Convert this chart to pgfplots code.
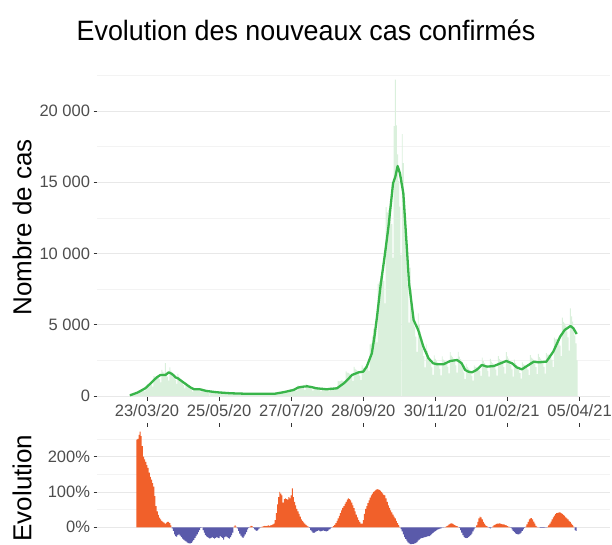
\documentclass[border=0pt]{standalone}
\usepackage{pgfplots}
\usepackage{pgfplotstable}
\usepackage{graphicx}
\pgfplotsset{compat=1.18}
\usepackage{fontspec}
\setmainfont{Liberation Sans}
\definecolor{barg}{RGB}{218,240,220}
\definecolor{lineg}{RGB}{57,181,74}
\definecolor{orng}{RGB}{241,96,42}
\definecolor{blu}{RGB}{90,90,170}
\definecolor{gridA}{RGB}{232,232,232}
\definecolor{gridB}{RGB}{243,243,243}
\definecolor{tickc}{RGB}{51,51,51}
\definecolor{labc}{RGB}{77,77,77}

\pgfplotstableread[row sep=\\]{
d c\\
-15 60\\ -14 115\\ -13 145\\ -12 170\\ -11 180\\ -10 190\\ -9 165\\
-8 310\\ -7 335\\ -6 365\\ -5 390\\ -4 400\\ -3 400\\ -2 330\\
-1 675\\ 0 715\\ 1 770\\ 2 820\\ 3 815\\ 4 800\\ 5 665\\
6 1400\\ 7 1360\\ 8 1365\\ 9 1365\\ 10 1290\\ 11 1205\\ 12 955\\
13 1840\\ 14 1690\\ 15 1615\\ 16 2300\\ 17 1455\\ 18 1360\\ 19 1080\\
20 2000\\ 21 1780\\ 22 1650\\ 23 1545\\ 24 1340\\ 25 1155\\ 26 845\\
27 1550\\ 28 1355\\ 29 1220\\ 30 1090\\ 31 920\\ 32 765\\ 33 540\\
34 960\\ 35 830\\ 36 735\\ 37 650\\ 38 540\\ 39 440\\ 40 305\\
41 590\\ 42 540\\ 43 515\\ 44 495\\ 45 445\\ 46 400\\ 47 300\\
48 550\\ 49 485\\ 50 440\\ 51 400\\ 52 340\\ 53 290\\ 54 215\\
55 400\\ 56 355\\ 57 330\\ 58 305\\ 59 265\\ 60 230\\ 61 170\\
62 320\\ 63 290\\ 64 270\\ 65 250\\ 66 225\\ 67 190\\ 68 140\\
69 255\\ 70 230\\ 71 215\\ 72 200\\ 73 180\\ 74 160\\ 75 120\\
76 230\\ 77 205\\ 78 195\\ 79 185\\ 80 165\\ 81 145\\ 82 110\\
83 210\\ 84 190\\ 85 180\\ 86 170\\ 87 150\\ 88 135\\ 89 100\\
90 195\\ 91 175\\ 92 170\\ 93 160\\ 94 145\\ 95 130\\ 96 100\\
97 190\\ 98 175\\ 99 165\\ 100 160\\ 101 145\\ 102 130\\ 103 100\\
104 190\\ 105 175\\ 106 165\\ 107 160\\ 108 145\\ 109 130\\ 110 100\\
111 190\\ 112 190\\ 113 200\\ 114 205\\ 115 200\\ 116 190\\ 117 155\\
118 325\\ 119 320\\ 120 330\\ 121 335\\ 122 325\\ 123 305\\ 124 245\\
125 500\\ 126 485\\ 127 495\\ 128 515\\ 129 505\\ 130 475\\ 131 375\\
132 740\\ 133 690\\ 134 675\\ 135 660\\ 136 615\\ 137 560\\ 138 435\\
139 850\\ 140 770\\ 141 715\\ 142 660\\ 143 580\\ 144 500\\ 145 370\\
146 695\\ 147 620\\ 148 585\\ 149 545\\ 150 485\\ 151 425\\ 152 320\\
153 600\\ 154 545\\ 155 515\\ 156 495\\ 157 455\\ 158 415\\ 159 325\\
160 640\\ 161 600\\ 162 585\\ 163 565\\ 164 570\\ 165 595\\ 166 520\\
167 1060\\ 168 1025\\ 169 1065\\ 170 1100\\ 171 1075\\ 172 1035\\ 173 845\\
174 1725\\ 175 1645\\ 176 1615\\ 177 1575\\ 178 1465\\ 179 1345\\ 180 1045\\
181 2040\\ 182 1900\\ 183 1825\\ 184 1755\\ 185 1595\\ 186 1435\\ 187 1105\\
188 2140\\ 189 1965\\ 190 1980\\ 191 2050\\ 192 2000\\ 193 2040\\ 194 1755\\
195 3625\\ 196 3680\\ 197 4180\\ 198 4725\\ 199 4750\\ 200 4590\\ 201 3770\\
202 7875\\ 203 8050\\ 204 8435\\ 205 8715\\ 206 8455\\ 207 8075\\ 208 6505\\
209 13250\\ 210 12880\\ 211 13070\\ 212 13230\\ 213 12730\\ 214 12070\\ 215 9700\\
216 18940\\ 217 22200\\ 218 19000\\ 219 16950\\ 220 15100\\ 221 13285\\ 222 9880\\
223 18375\\ 224 16350\\ 225 13750\\ 226 12075\\ 227 9955\\ 228 7820\\ 229 5140\\
230 9000\\ 231 7475\\ 232 6490\\ 233 5600\\ 234 4845\\ 235 4165\\ 236 3090\\
237 5790\\ 238 5000\\ 239 4510\\ 240 3990\\ 241 3325\\ 242 2805\\ 243 2015\\
244 3625\\ 245 3160\\ 246 2910\\ 247 2680\\ 248 2330\\ 249 2015\\ 250 1490\\
251 2850\\ 252 2610\\ 253 2485\\ 254 2360\\ 255 2130\\ 256 1895\\ 257 1445\\
258 2780\\ 259 2560\\ 260 2485\\ 261 2415\\ 262 2235\\ 263 2040\\ 264 1585\\
265 3070\\ 266 2840\\ 267 2740\\ 268 2630\\ 269 2390\\ 270 2140\\ 271 1640\\
272 3100\\ 273 2760\\ 274 2585\\ 275 2410\\ 276 2000\\ 277 1660\\ 278 1185\\
279 2250\\ 280 2035\\ 281 1915\\ 282 1795\\ 283 1595\\ 284 1410\\ 285 1085\\
286 2150\\ 287 2045\\ 288 2010\\ 289 1995\\ 290 1890\\ 291 1770\\ 292 1415\\
293 2690\\ 294 2440\\ 295 2300\\ 296 2165\\ 297 1955\\ 298 1760\\ 299 1350\\
300 2600\\ 301 2405\\ 302 2310\\ 303 2225\\ 304 2035\\ 305 1845\\ 306 1430\\
307 2800\\ 308 2610\\ 309 2525\\ 310 2435\\ 311 2235\\ 312 2030\\ 313 1575\\
314 3070\\ 315 2785\\ 316 2620\\ 317 2455\\ 318 2180\\ 319 1870\\ 320 1365\\
321 2560\\ 322 2310\\ 323 2180\\ 324 2050\\ 325 1825\\ 326 1605\\ 327 1215\\
328 2360\\ 329 2220\\ 330 2180\\ 331 2140\\ 332 1995\\ 333 1855\\ 334 1460\\
335 2875\\ 336 2700\\ 337 2630\\ 338 2530\\ 339 2280\\ 340 2025\\ 341 1540\\
342 2950\\ 343 2725\\ 344 2620\\ 345 2510\\ 346 2280\\ 347 2045\\ 348 1565\\
349 3010\\ 350 2900\\ 351 2895\\ 352 2890\\ 353 2725\\ 354 2540\\ 355 2020\\
356 4100\\ 357 3980\\ 358 4005\\ 359 4010\\ 360 3800\\ 361 3535\\ 362 2795\\
363 5500\\ 364 5200\\ 365 5095\\ 366 4935\\ 367 4540\\ 368 4120\\ 369 3190\\
370 6140\\ 371 5580\\ 372 5225\\ 373 4830\\ 374 4230\\ 375 3700\\ 376 2500\\
}\cases

\pgfplotstableread[row sep=\\]{
d v\\
-9 248\\ -8 250\\ -7 262\\ -6 271\\ -5 258\\ -4 230\\ -3 200\\ -2 192\\ -1 185\\ 0 176\\
1 168\\ 2 155\\ 3 143\\ 4 135\\ 5 125\\ 6 115\\ 7 88\\ 8 60\\ 9 45\\ 10 35\\
11 27\\ 12 22\\ 13 18\\ 14 15\\ 15 13\\ 16 10\\ 17 13\\ 18 15\\ 19 15\\ 20 12\\ 21 5\\
22 -3\\ 23 -10\\ 24 -20\\ 25 -25\\ 26 -27\\ 27 -22\\ 28 -20\\ 29 -24\\ 30 -28\\ 31 -32\\
32 -35\\ 33 -38\\ 34 -40\\ 35 -43\\ 36 -45\\ 37 -46\\ 38 -46\\ 39 -44\\ 40 -40\\ 41 -36\\
42 -30\\ 43 -25\\ 44 -20\\ 45 -14\\ 46 -8\\ 47 -2\\ 48 0\\
49 -8\\ 50 -15\\ 51 -22\\ 52 -26\\ 53 -28\\ 54 -30\\ 55 -32\\ 56 -30\\ 57 -28\\ 58 -30\\
59 -32\\ 60 -30\\ 61 -28\\ 62 -30\\ 63 -31\\ 64 -25\\ 65 -28\\ 66 -30\\ 67 -35\\ 68 -28\\
69 -26\\ 70 -28\\ 71 -30\\ 72 -32\\ 73 -28\\ 74 -22\\ 75 -15\\
76 2\\ 77 5\\ 78 2\\
79 -3\\ 80 -10\\ 81 -18\\ 82 -24\\ 83 -28\\ 84 -30\\ 85 -26\\ 86 -20\\ 87 -14\\ 88 -6\\ 89 -2\\
90 2\\ 91 4\\ 92 3\\ 93 -2\\ 94 -6\\ 95 -9\\ 96 -10\\ 97 -8\\ 98 -4\\ 99 -1\\
100 1\\ 101 2\\ 102 3\\ 103 4\\ 104 3\\ 105 4\\ 106 5\\ 107 4\\ 108 5\\ 109 6\\ 110 8\\
111 10\\ 112 20\\ 113 40\\ 114 65\\ 115 85\\ 116 100\\ 117 95\\ 118 90\\ 119 70\\ 120 80\\
121 82\\ 122 80\\ 123 78\\ 124 85\\ 125 82\\ 126 90\\ 127 110\\ 128 85\\ 129 72\\ 130 62\\
131 52\\ 132 45\\ 133 38\\ 134 30\\ 135 22\\ 136 18\\ 137 14\\ 138 10\\ 139 7\\ 140 4\\ 141 2\\
142 -2\\ 143 -8\\ 144 -12\\ 145 -15\\ 146 -16\\ 147 -14\\ 148 -12\\ 149 -10\\ 150 -9\\ 151 -11\\
152 -12\\ 153 -10\\ 154 -9\\ 155 -10\\ 156 -11\\ 157 -12\\ 158 -10\\ 159 -7\\ 160 -5\\ 161 -2\\
162 1\\ 163 3\\ 164 7\\ 165 12\\ 166 18\\ 167 25\\ 168 32\\ 169 40\\ 170 48\\ 171 55\\
172 60\\ 173 66\\ 174 72\\ 175 78\\ 176 82\\ 177 80\\ 178 76\\ 179 70\\ 180 62\\ 181 54\\
182 45\\ 183 36\\ 184 28\\ 185 20\\ 186 15\\ 187 10\\ 188 10\\ 189 20\\ 190 38\\ 191 52\\
192 60\\ 193 68\\ 194 76\\ 195 84\\ 196 90\\ 197 95\\ 198 100\\ 199 103\\ 200 106\\ 201 108\\
202 107\\ 203 106\\ 204 104\\ 205 100\\ 206 96\\ 207 92\\ 208 90\\ 209 82\\ 210 72\\ 211 62\\
212 55\\ 213 48\\ 214 42\\ 215 36\\ 216 30\\ 217 25\\ 218 18\\ 219 12\\ 220 6\\ 221 1\\
222 -5\\ 223 -12\\ 224 -20\\ 225 -28\\ 226 -33\\ 227 -38\\ 228 -43\\ 229 -46\\ 230 -48\\ 231 -48\\
232 -47\\ 233 -47\\ 234 -46\\ 235 -45\\ 236 -42\\ 237 -38\\ 238 -35\\ 239 -32\\ 240 -31\\ 241 -30\\
242 -29\\ 243 -28\\ 244 -27\\ 245 -26\\ 246 -25\\ 247 -25\\ 248 -22\\ 249 -19\\ 250 -16\\ 251 -13\\
252 -11\\ 253 -9\\ 254 -7\\ 255 -5\\ 256 -4\\ 257 -3\\ 258 -1\\ 259 -1\\
260 0\\ 261 1\\ 262 3\\ 263 5\\ 264 8\\ 265 10\\ 266 11\\ 267 10\\ 268 8\\ 269 6\\ 270 4\\ 271 3\\ 272 1\\
273 -2\\ 274 -8\\ 275 -15\\ 276 -22\\ 277 -27\\ 278 -30\\ 279 -31\\ 280 -30\\ 281 -28\\ 282 -25\\
283 -22\\ 284 -18\\ 285 -12\\ 286 -6\\ 287 -1\\
288 5\\ 289 15\\ 290 25\\ 291 30\\ 292 28\\ 293 22\\ 294 15\\ 295 10\\ 296 5\\ 297 3\\ 298 1\\
299 -2\\ 300 -3\\ 301 -1\\
302 2\\ 303 5\\ 304 7\\ 305 9\\ 306 10\\ 307 10\\ 308 11\\ 309 10\\ 310 9\\ 311 8\\ 312 8\\ 313 6\\ 314 5\\ 315 3\\ 316 2\\ 317 1\\
318 -2\\ 319 -6\\ 320 -10\\ 321 -14\\ 322 -17\\ 323 -19\\ 324 -20\\ 325 -20\\ 326 -18\\ 327 -15\\ 328 -10\\ 329 -6\\ 330 -2\\
331 2\\ 332 8\\ 333 15\\ 334 22\\ 335 25\\ 336 26\\ 337 22\\ 338 16\\ 339 10\\ 340 4\\
341 1\\ 342 0\\ 343 -1\\ 344 -2\\ 345 -2\\ 346 -2\\ 347 -2\\ 348 -1\\ 349 -1\\
350 1\\ 351 5\\ 352 10\\ 353 16\\ 354 22\\ 355 28\\ 356 33\\ 357 37\\ 358 40\\ 359 41\\
360 42\\ 361 42\\ 362 40\\ 363 38\\ 364 35\\ 365 32\\ 366 28\\ 367 25\\ 368 22\\ 369 18\\
370 15\\ 371 10\\ 372 6\\ 373 2\\ 374 -8\\ 375 -10\\
}\evo

\pgfplotsset{mystyle/.style={
  scale only axis, width=513bp, xmin=-43.7, xmax=404.6,
  axis line style={draw=none},
  tick style={tickc, line width=0.7bp},
  major tick length=3.5bp, minor tick length=0pt, tick align=outside,
  ymajorgrids, yminorgrids,
  major grid style={gridA, line width=0.8bp},
  minor grid style={gridB, line width=0.5bp},
  tick label style={font=\fontsize{16.5bp}{18bp}\selectfont, text=labc},
  xtick={0,63,126,189,252,315,378},
  scaled y ticks=false,
}}

\begin{document}
\begin{tikzpicture}
\path[use as bounding box] (0,0) rectangle (612bp,-545bp);
\node[anchor=base] at (306bp,-40bp) {\fontsize{28bp}{32bp}\selectfont\scalebox{0.96}[1]{Evolution des nouveaux cas confirmés}};
\node[rotate=90] at (22bp,-227.5bp) {\fontsize{26bp}{30bp}\selectfont Nombre de cas};
\node[rotate=90] at (22bp,-488bp) {\fontsize{26bp}{30bp}\selectfont Evolution};

\begin{axis}[mystyle, at={(97bp,-397.4bp)}, anchor=south west, height=333.4bp,
  ymin=-100, ymax=23300,
  axis x line*=bottom, axis y line*=left,
  ytick={0,5000,10000,15000,20000},
  yticklabels={0,5 000,10 000,15 000,20 000},
  minor ytick={2500,7500,12500,17500,22500},
  xticklabels={23/03/20,25/05/20,27/07/20,28/09/20,30/11/20,01/02/21,05/04/21},
]
\addplot[ybar, bar width=0.78, bar shift=0pt, fill=barg, draw=none] table[x=d,y=c]{\cases};
\addplot[lineg, line width=2.3bp, line join=round] coordinates {
(-15,50) (-13,100) (-8,250) (-1.5,540) (2,800) (6,1120) (9,1330) (11.6,1470) (16,1470) (17.5,1560) (19,1660) (21,1580) (23,1470) (25,1300) (27,1240) (31,1000) (35,770) (38,600) (41,470) (46,470) (52,350) (61,260) (73,190) (85,160) (96,150) (111,150) (119,260) (128,420) (132,590) (136,650) (140,680) (144,620) (148,540) (157,470) (166,540) (172,890) (176,1200) (179,1470) (185,1660) (189,1710) (192,2060) (196.5,3000) (199,4300) (201,5570) (204,7670) (208,10010) (211,11880) (215,14925) (217,15390) (219,16140) (221,15630) (224,14220) (227,10480) (229,7910) (233,5330) (237,4630) (241.5,3460) (246,2645) (250,2295) (254,2220) (259,2225) (265,2455) (271,2525) (275,2295) (278,1825) (281,1700) (284,1660) (288,1825) (292.6,2175) (297,2060) (303,2100) (309,2295) (314,2455) (319,2295) (323,2010) (327.5,1870) (332,2100) (338,2410) (342,2360) (349,2410) (355,3110) (361,4160) (365,4630) (370,4910) (372.6,4750) (375.5,4350)
};
\end{axis}

\begin{axis}[mystyle, at={(97bp,-545.6bp)}, anchor=south west, height=118.96bp,
  ymin=-52, ymax=285,
  axis x line*=top, axis y line*=left,
  ytick={0,100,200},
  yticklabels={0\%,100\%,200\%},
  minor ytick={-50,50,150,250},
  xticklabels={},
]
\addplot[ybar, bar width=0.8, bar shift=0pt, fill=orng, draw=none, restrict y to domain=0:400] table[x=d,y=v]{\evo};
\addplot[ybar, bar width=0.8, bar shift=0pt, fill=blu, draw=none, restrict y to domain=-100:0] table[x=d,y=v]{\evo};
\end{axis}
\end{tikzpicture}
\end{document}
